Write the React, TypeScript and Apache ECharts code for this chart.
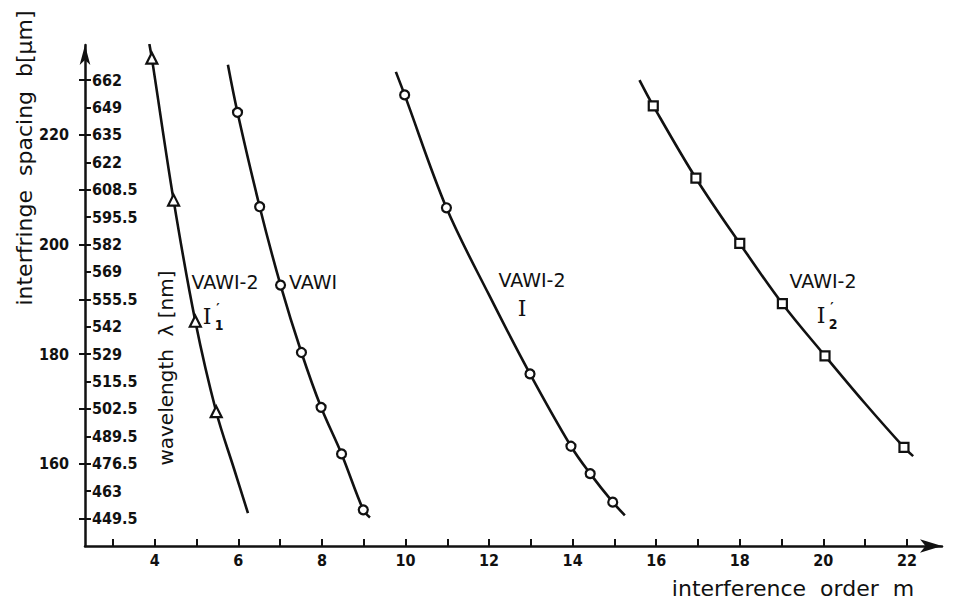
import React, { useEffect, useRef } from "react";
import * as echarts from "echarts";

// x axis (interference order m)
const xTickValues = [3, 4, 5, 6, 7, 8, 9, 10, 11, 12, 13, 14, 15, 16, 17, 18, 19, 20, 21, 22];
const xLabelValues = [4, 6, 8, 10, 12, 14, 16, 18, 20, 22];

// y axis (interfringe spacing b in µm)
const bCrossTicks = [150, 160, 170, 180, 190, 200, 210, 220, 230];
const bLabelValues = [160, 180, 200, 220];
const bWaveTicks = [150, 155, 160, 165, 170, 175, 180, 185, 190, 195, 200, 205, 210, 215, 220, 225, 230];
const waveLabels = [
  "449.5", "463", "476.5", "489.5", "502.5", "515.5", "529", "542", "555.5",
  "569", "582", "595.5", "608.5", "622", "635", "649", "662",
];

// VAWI-2  I'1 (triangles)
const i1Markers = [[3.93, 234.0], [4.45, 208.1], [4.97, 186.0], [5.47, 169.5]];
const i1Curve = [[3.87, 236.6], [3.93, 234.0], [4.45, 208.1], [4.97, 186.0], [5.47, 169.5], [5.9, 159.0], [6.23, 151.0]];

// VAWI (circles)
const vawiMarkers = [[5.98, 224.1], [6.51, 206.9], [7.01, 192.6], [7.51, 180.3], [7.98, 170.3], [8.47, 161.8], [8.99, 151.6]];
const vawiCurve = [[5.75, 232.8], [5.98, 224.1], [6.51, 206.9], [7.01, 192.6], [7.51, 180.3], [7.98, 170.3], [8.47, 161.8], [8.99, 151.6], [9.15, 150.2]];

// VAWI-2  I (circles)
const iMarkers = [[9.98, 227.3], [10.98, 206.7], [12.98, 176.4], [13.96, 163.2], [14.42, 158.2], [14.96, 153.0]];
const iCurve = [[9.77, 231.5], [9.98, 227.3], [10.98, 206.7], [12.0, 190.8], [12.98, 176.4], [13.96, 163.2], [14.42, 158.2], [14.96, 153.0], [15.25, 150.6]];

// VAWI-2  I'2 (squares)
const i2Markers = [[15.93, 225.3], [16.95, 212.1], [18.0, 200.2], [19.02, 189.2], [20.04, 179.7], [21.93, 163.0]];
const i2Curve = [[15.6, 230.0], [15.93, 225.3], [16.95, 212.1], [18.0, 200.2], [19.02, 189.2], [20.04, 179.7], [21.0, 171.0], [21.93, 163.0], [22.15, 161.4]];

const FONT = "'DejaVu Sans Condensed', 'Liberation Sans Narrow', 'DejaVu Sans', sans-serif";
const TITLE_FONT = "'DejaVu Sans', sans-serif";
const INK = "#111";

function lineSeries(data: number[][]) {
  return {
    type: "line",
    data,
    smooth: 0.35,
    symbol: "none",
    lineStyle: { color: INK, width: 2.6 },
    z: 2,
  };
}

function markerSeries(data: number[][], symbol: string, size: number) {
  return {
    type: "scatter",
    data,
    symbol,
    symbolSize: size,
    itemStyle: { color: "#ffffff", opacity: 1, borderColor: INK, borderWidth: 2.2 },
    emphasis: { disabled: true },
    z: 5,
  };
}

function curveLabel(x: number, y: number, text: string) {
  return {
    type: "text",
    x,
    y,
    style: {
      text,
      fill: INK,
      font: `19px ${TITLE_FONT}`,
      textAlign: "center",
      textVerticalAlign: "middle",
    },
  };
}

function romanLabel(x: number, y: number, prime: boolean, sub: string) {
  const els: any[] = [
    {
      type: "text",
      x,
      y,
      style: {
        text: "I",
        fill: INK,
        font: "22px 'DejaVu Serif', serif",
        textAlign: "center",
        textVerticalAlign: "middle",
      },
    },
  ];
  if (prime) {
    els.push({
      type: "text",
      x: x + 11,
      y: y - 9,
      style: { text: "′", fill: INK, font: "bold 13px 'DejaVu Sans', sans-serif", textAlign: "center", textVerticalAlign: "middle" },
    });
  }
  if (sub) {
    els.push({
      type: "text",
      x: x + 12,
      y: y + 9,
      style: { text: sub, fill: INK, font: `bold 14px ${FONT}`, textAlign: "center", textVerticalAlign: "middle" },
    });
  }
  return els;
}

export default function App() {
  const ref = useRef<HTMLDivElement>(null);

  useEffect(() => {
    document.body.style.margin = "0";
    if (!ref.current) return;
    const chart = echarts.init(ref.current, null, { renderer: "svg" });

    const axisLineStyle = { color: INK, width: 2.5 };
    const tickText = { color: INK, fontFamily: FONT, fontSize: 16, fontWeight: "bold" as const };

    const option: any = {
      animation: false,
      backgroundColor: "#fff",
      grid: { left: 85, right: 12, top: 45, bottom: 61, containLabel: false },
      xAxis: {
        type: "value",
        min: 2.33,
        max: 22.84,
        axisLine: { show: true, symbol: ["none", "arrow"], symbolSize: [10, 22], lineStyle: axisLineStyle },
        axisTick: { show: true, inside: true, length: 7, customValues: xTickValues, lineStyle: { color: INK, width: 2 } },
        axisLabel: { show: true, customValues: xLabelValues, margin: 6, ...tickText },
        splitLine: { show: false },
      },
      yAxis: [
        {
          type: "value",
          min: 145,
          max: 236.4,
          position: "left",
          axisLine: { show: true, symbol: ["none", "arrow"], symbolSize: [8, 20], lineStyle: axisLineStyle },
          axisTick: { show: true, inside: false, length: 6, customValues: bCrossTicks, lineStyle: { color: INK, width: 2 } },
          axisLabel: { show: true, customValues: bLabelValues, margin: 16, ...tickText },
          splitLine: { show: false },
        },
        {
          type: "value",
          min: 145,
          max: 236.4,
          position: "left",
          axisLine: { show: false },
          axisTick: { show: true, inside: true, length: 6, customValues: bWaveTicks, lineStyle: { color: INK, width: 2 } },
          axisLabel: {
            show: true,
            inside: true,
            customValues: bWaveTicks,
            margin: 7,
            formatter: (v: number) => {
              const idx = bWaveTicks.indexOf(Math.round(v));
              return idx >= 0 ? waveLabels[idx] : "";
            },
            ...tickText,
          },
          splitLine: { show: false },
        },
      ],
      series: [
        lineSeries(i1Curve),
        lineSeries(vawiCurve),
        lineSeries(iCurve),
        lineSeries(i2Curve),
        markerSeries(i1Markers, "triangle", 11),
        markerSeries(vawiMarkers, "circle", 9),
        markerSeries(iMarkers, "circle", 9),
        markerSeries(i2Markers, "rect", 9),
      ],
      graphic: [
        {
          type: "text",
          x: 24,
          y: 158,
          rotation: Math.PI / 2,
          style: {
            text: "interfringe  spacing  b[µm]",
            fill: INK,
            font: `22px ${TITLE_FONT}`,
            textAlign: "center",
            textVerticalAlign: "middle",
          },
        },
        {
          type: "text",
          x: 166,
          y: 368,
          rotation: Math.PI / 2,
          style: {
            text: "wavelength  λ [nm]",
            fill: INK,
            font: `20px ${TITLE_FONT}`,
            textAlign: "center",
            textVerticalAlign: "middle",
          },
        },
        {
          type: "text",
          x: 793,
          y: 588,
          style: {
            text: "interference  order  m",
            fill: INK,
            font: `22px ${TITLE_FONT}`,
            textAlign: "center",
            textVerticalAlign: "middle",
          },
        },
        curveLabel(225, 282, "VAWI-2"),
        curveLabel(313, 282, "VAWI"),
        curveLabel(532, 280, "VAWI-2"),
        curveLabel(823, 281, "VAWI-2"),
        ...romanLabel(207, 316, true, "1"),
        {
          type: "text",
          x: 522,
          y: 308,
          style: { text: "I", fill: INK, font: "22px 'DejaVu Serif', serif", textAlign: "center", textVerticalAlign: "middle" },
        },
        ...romanLabel(821, 315, true, "2"),
      ],
    };

    chart.setOption(option);
    return () => chart.dispose();
  }, []);

  return <div ref={ref} style={{ width: 954, height: 607, background: "#fff" }} />;
}
